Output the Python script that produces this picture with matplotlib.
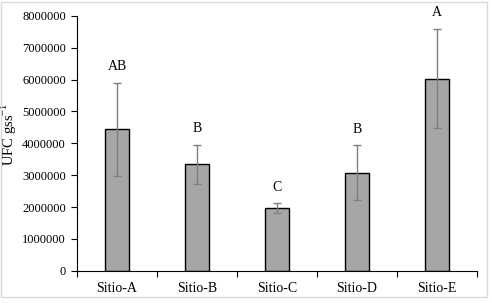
import numpy as np
import matplotlib
matplotlib.use('Agg')
import matplotlib.pyplot as plt
from matplotlib.patches import Rectangle

sites = ['Sitio-A', 'Sitio-B', 'Sitio-C', 'Sitio-D', 'Sitio-E']
means = [4440000, 3340000, 1960000, 3080000, 6030000]
err_low = [1470000, 620000, 150000, 850000, 1560000]
err_high = [1460000, 610000, 160000, 860000, 1570000]
letters = ['AB', 'B', 'C', 'B', 'A']

plt.rcParams['font.family'] = ['Liberation Serif', 'DejaVu Serif']
plt.rcParams['mathtext.fontset'] = 'custom'
plt.rcParams['mathtext.rm'] = 'Liberation Serif'

fig = plt.figure(figsize=(4.92, 3.03), dpi=100)
ax = fig.add_axes([0.1565, 0.1066, 0.813, 0.8409])

x = np.arange(len(sites))
ax.bar(x, means, width=0.31, color='#a6a6a6', edgecolor='black', linewidth=1.0, zorder=2)
ax.errorbar(x, means, yerr=[err_low, err_high], fmt='none', ecolor='#7f7f7f',
            elinewidth=1.0, capsize=3, capthick=1.0, zorder=3)
for xi, m, eh, lab in zip(x, means, err_high, letters):
    ax.annotate(lab, (xi, m + eh), xytext=(0, 11.5), textcoords='offset points',
                ha='center', va='center', fontsize=10)

ax.set_xlim(-0.5, len(sites) - 0.5)
ax.set_ylim(0, 8000000)
ax.set_yticks(np.arange(0, 8000001, 1000000))
ax.set_yticklabels(['%d' % v for v in np.arange(0, 8000001, 1000000)])
ax.set_xticks(x)
ax.set_xticklabels(sites)
ax.set_xticks(np.arange(-0.5, len(sites), 1.0), minor=True)
ax.tick_params(axis='x', which='major', length=0, pad=8, labelsize=10)
ax.tick_params(axis='x', which='minor', length=4, width=0.8, direction='out')
ax.tick_params(axis='y', length=4, width=0.8, direction='out', pad=4, labelsize=9)
ax.spines['top'].set_visible(False)
ax.spines['right'].set_visible(False)
for s in ['left', 'bottom']:
    ax.spines[s].set_linewidth(0.8)
ax.set_ylabel('UFC gss$^{\\mathregular{-1}}$', fontsize=10.5)
ax.yaxis.set_label_coords(-0.145, 0.536)

fig.patches.append(Rectangle((0.002, 0.02), 0.988, 0.975, transform=fig.transFigure,
                             fill=False, edgecolor='#d9d9d9', linewidth=1.0))

fig.savefig('out.png', dpi=100)
